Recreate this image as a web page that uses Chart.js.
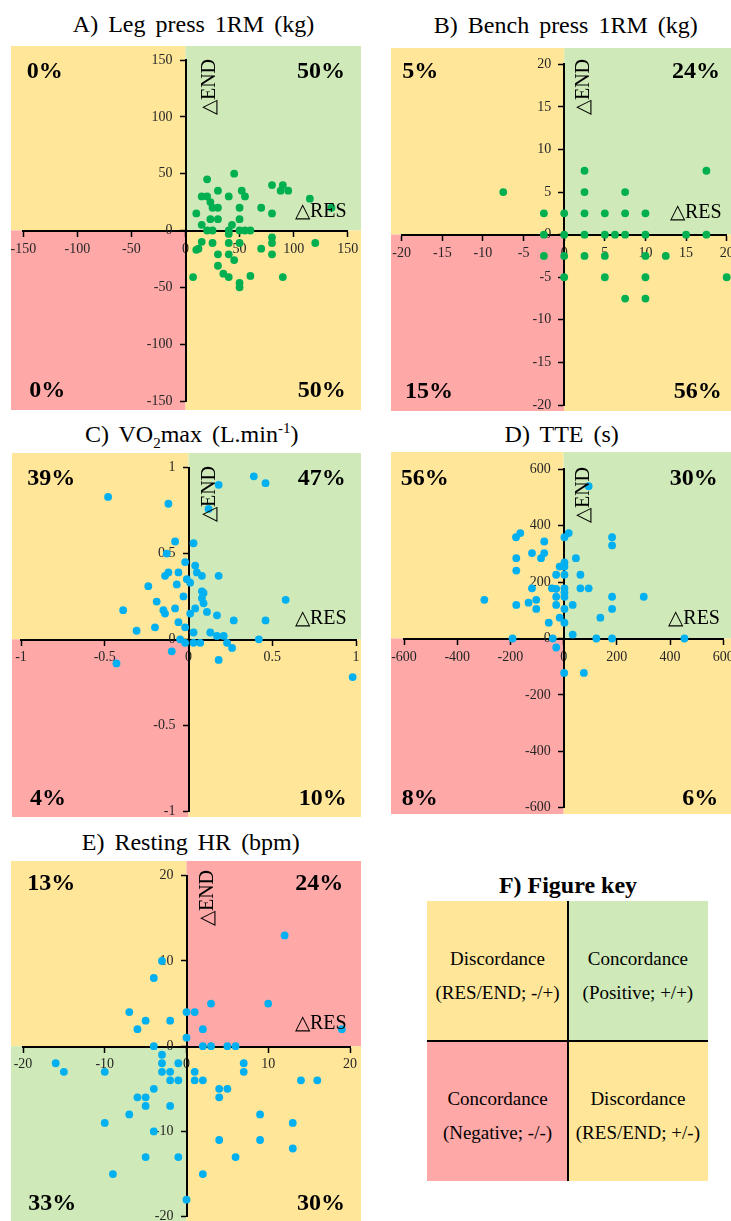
<!DOCTYPE html>
<html>
<head>
<meta charset="utf-8">
<script src="https://cdn.jsdelivr.net/npm/chart.js@4.4.1/dist/chart.umd.min.js"></script>
<style>
  html, body { margin: 0; padding: 0; background: #fff; overflow: hidden; }
  body { position: relative; width: 731px; height: 1221px; font-family: "Liberation Serif", "Times New Roman", serif; color: #000; }
  .panel { position: absolute; }
  .title { position: absolute; width: 320px; text-align: center; font-size: 24px; line-height: 24px; word-spacing: 4px; white-space: nowrap; }
  .pct { position: absolute; font-size: 24px; line-height: 24px; font-weight: bold; white-space: nowrap; }
  .vend { position: absolute; width: 60px; height: 20px; font-size: 20px; line-height: 20px; text-align: center; white-space: nowrap; transform: rotate(-90deg); }
  .dres { position: absolute; font-size: 20px; line-height: 20px; white-space: nowrap; }
  .cell { position: absolute; width: 140.4px; height: 139.9px; box-sizing: border-box; padding-top: 41px; text-align: center; font-size: 19px; line-height: 34px; white-space: nowrap; }
  .bar { position: absolute; background: #000; }
  sub, sup { font-size: 15px; line-height: 0; }
</style>
</head>
<body>

<div class="title" style="left:33.5px; top:11.6px;">A) Leg press 1RM (kg)</div>
<div class="title" style="left:405.8px; top:12.7px;">B) Bench press 1RM (kg)</div>
<div class="title" style="left:31.7px; top:421.6px;">C) VO<sub>2</sub>max (L.min<sup>-1</sup>)</div>
<div class="title" style="left:401.7px; top:422px;">D) TTE (s)</div>
<div class="title" style="left:30.8px; top:830px;">E) Resting HR (bpm)</div>
<div class="title" style="left:408px; top:873.2px; font-weight:bold; word-spacing:0;">F) Figure key</div>

<div class="panel" style="left:11px; top:46px;"><canvas id="chartA" width="350" height="364"></canvas></div>
<div class="panel" style="left:391px; top:48px;"><canvas id="chartB" width="350" height="363"></canvas></div>
<div class="panel" style="left:12px; top:453px;"><canvas id="chartC" width="349" height="364"></canvas></div>
<div class="panel" style="left:391px; top:452px;"><canvas id="chartD" width="350" height="362"></canvas></div>
<div class="panel" style="left:11px; top:861px;"><canvas id="chartE" width="350" height="370"></canvas></div>

<!-- quadrant percentages -->
<div class="pct" style="left:26.7px; top:58.2px;">0%</div>
<div class="pct" style="right:386px; top:58.2px;">50%</div>
<div class="pct" style="left:29.3px; top:376.9px;">0%</div>
<div class="pct" style="right:385.3px; top:376.9px;">50%</div>

<div class="pct" style="left:402.3px; top:57.9px;">5%</div>
<div class="pct" style="right:11px; top:57.9px;">24%</div>
<div class="pct" style="left:405px; top:377.9px;">15%</div>
<div class="pct" style="right:9.3px; top:377.9px;">56%</div>

<div class="pct" style="left:27.3px; top:464.9px;">39%</div>
<div class="pct" style="right:385.3px; top:464.9px;">47%</div>
<div class="pct" style="left:30px; top:784.9px;">4%</div>
<div class="pct" style="right:384.3px; top:784.9px;">10%</div>

<div class="pct" style="left:400.7px; top:464.9px;">56%</div>
<div class="pct" style="right:13.3px; top:464.9px;">30%</div>
<div class="pct" style="left:401.7px; top:784.9px;">8%</div>
<div class="pct" style="right:12.7px; top:784.9px;">6%</div>

<div class="pct" style="left:27.3px; top:869.9px;">13%</div>
<div class="pct" style="right:387.7px; top:869.9px;">24%</div>
<div class="pct" style="left:28.3px; top:1189.9px;">33%</div>
<div class="pct" style="right:386px; top:1189.9px;">30%</div>

<!-- axis names -->
<div class="vend" style="left:178px; top:77px;">△END</div>
<div class="vend" style="left:551.7px; top:77px;">△END</div>
<div class="vend" style="left:177.5px; top:484px;">△END</div>
<div class="vend" style="left:552px; top:484.5px;">△END</div>
<div class="vend" style="left:176px; top:888px;">△END</div>

<div class="dres" style="right:384.3px; top:199.9px;">△RES</div>
<div class="dres" style="right:9.3px; top:201.2px;">△RES</div>
<div class="dres" style="right:384.3px; top:607.2px;">△RES</div>
<div class="dres" style="right:11px; top:607.2px;">△RES</div>
<div class="dres" style="right:384.3px; top:1012.2px;">△RES</div>

<!-- figure key -->
<div class="cell" style="left:427.3px; top:901px; background:#FFE699;">Discordance<br>(RES/END; -/+)</div>
<div class="cell" style="left:567.7px; top:901px; background:#CFEAB8;">Concordance<br>(Positive; +/+)</div>
<div class="cell" style="left:427.3px; top:1040.9px; background:#FFA8A8;">Concordance<br>(Negative; -/-)</div>
<div class="cell" style="left:567.7px; top:1040.9px; background:#FFE699;">Discordance<br>(RES/END; +/-)</div>
<div class="bar" style="left:567px; top:901px; width:2px; height:280px;"></div>
<div class="bar" style="left:427.3px; top:1040px; width:281px; height:2px;"></div>

<script>
const YELLOW = '#FFE699', GREEN = '#CFEAB8', PINK = '#FFA8A8';
const dotGreen = '#00B050', dotBlue = '#00B0F0';

// A) Leg press 1RM (kg)
const legRes = [45,20,80,90,88,95,30,52,55,40,15,20,23,115,25,30,50,70,135,10,80,15,23,30,50,43,20,25,40,50,55,60,40,15,12,10,25,40,50,80,80,70,80,120,30,40,45,30,35,40,60,7,90,50,50];
const legEnd = [50,45,40,40,35,35,35,35,30,30,30,30,25,28,20,20,20,20,20,15,15,5,10,10,10,5,0,0,0,0,0,0,-3,-10,-16,-17,-11,-11,-11,-6,-11,-16,-21,-11,-21,-21,-26,-31,-38,-41,-40,-41,-41,-46,-50];
const legTicks = [-150,-100,-50,0,50,100,150];

// B) Bench press 1RM (kg)
const benchRes = [-7.5,2.5,17.5,2.5,7.5,-2.5,0,2.5,5,7.5,10,-2.5,0,2.5,5,6.25,7.5,10,15,17.5,-2.5,0,2.5,5,10,12.5,0,5,10,20,7.5,10];
const benchEnd = [5,7.5,7.5,5,5,2.5,2.5,2.5,2.5,2.5,2.5,0,0,0,0,0,0,0,0,0,-2.5,-2.5,-2.5,-2.5,-2.5,-2.5,-5,-5,-5,-5,-7.5,-7.5];
const benchTicks = [-20,-15,-10,-5,0,5,10,15,20];

// C) VO2max (L.min-1)
const vo2Res = [-0.48,-0.12,0.18,0.39,0.46,0.12,-0.08,0.03,-0.13,-0.02,0.04,-0.12,-0.14,-0.06,0.05,0.08,0.18,-0.01,0.01,-0.24,-0.07,0.08,0.09,0.08,-0.03,0.58,-0.19,0.09,0.04,-0.08,-0.39,-0.15,-0.14,0.11,0.01,0.17,0.27,0.46,-0.06,-0.20,-0.02,-0.31,0.03,0.13,0.17,0.21,0.42,-0.05,-0.02,0.03,0.07,0.23,0.26,-0.10,0.18,-0.43,0.98];
const vo2End = [0.83,0.79,0.90,0.95,0.91,0.76,0.57,0.56,0.50,0.45,0.43,0.39,0.37,0.39,0.39,0.37,0.37,0.35,0.33,0.31,0.32,0.28,0.27,0.24,0.25,0.23,0.22,0.21,0.18,0.18,0.17,0.17,0.15,0.16,0.15,0.14,0.11,0.11,0.10,0.07,0.07,0.05,0.04,0.04,0.02,0.02,0.00,0.00,-0.02,-0.02,-0.02,-0.02,-0.05,-0.07,-0.12,-0.14,-0.22];
const vo2Ticks = [-1,-0.5,0,0.5,1];

// D) TTE (s)
const tteRes = [94,-163,-179,19,3,182,182,-73,-178,-119,-73,-85,46,3,-15,3,-178,-28,3,63,-119,-44,-28,3,3,63,94,-28,3,182,301,-298,-103,-132,-178,-28,34,-103,3,182,138,-15,-56,3,34,-192,-41,123,182,454,-28,2,76];
const tteEnd = [540,374,359,374,359,359,330,344,285,303,303,285,285,270,255,255,241,226,226,226,178,178,176,178,163,178,178,148,148,148,148,137,137,127,119,119,119,105,105,105,74,74,56,56,14,0,0,0,0,0,-32,-122,-122];
const tteTicks = [-600,-400,-200,0,200,400,600];

// E) Resting HR (bpm)
const hrRes = [12,-3,-4,3,10,-7,0,1,-5,-2,-6,2,19,0,-4,2,3,5,6,-3,-16,-15,-10,-3,-1,7,7,-3,-2,1,-2,-1,1,2,14,16,-4,4,5,-6,-5,4,-5,-2,-7,9,-10,13,-4,4,9,13,-5,-1,6,-9,2,0];
const hrEnd = [13,10,8,5,5,4,4,4,3,3,2,2,2,1,0,0,0,0,0,-1,-2,-3,-3,-2,-2,-2,-3,-3,-3,-3,-4,-4,-4,-4,-4,-4,-5,-5,-5,-6,-6,-6,-7,-7,-8,-8,-9,-9,-10,-11,-11,-12,-13,-13,-13,-15,-15,-18];
const hrTicks = [-20,-10,0,10,20];

// paints the four quadrant backgrounds, split where the axes cross
const quadrantPlugin = {
  id: 'quadrants',
  beforeDraw(chart, args, opts) {
    const {ctx, width, height} = chart;
    const x0 = chart.scales.x.getPixelForValue(0);
    const y0 = chart.scales.y.getPixelForValue(0);
    const [tl, tr, bl, br] = opts.colours;
    ctx.save();
    ctx.fillStyle = tl; ctx.fillRect(0, 0, x0, y0);
    ctx.fillStyle = tr; ctx.fillRect(x0, 0, width - x0, y0);
    ctx.fillStyle = bl; ctx.fillRect(0, y0, x0, height - y0);
    ctx.fillStyle = br; ctx.fillRect(x0, y0, width - x0, height - y0);
    ctx.restore();
  }
};

// every range is symmetric, so the centre of the plot is the zero line
function axis(ticks, isX) {
  return {
    type: 'linear',
    position: 'center',
    min: ticks[0],
    max: ticks[ticks.length - 1],
    afterBuildTicks: s => { s.ticks = ticks.map(v => ({value: v})); },
    afterFit: s => { s.paddingLeft = 0; s.paddingRight = 0; s.paddingTop = 0; s.paddingBottom = 0; },
    grid: { drawOnChartArea: false, drawTicks: true, tickLength: 5, tickWidth: 1.5, tickColor: '#000' },
    border: { display: true, color: '#000', width: 2 },
    ticks: {
      color: '#262626',
      font: { family: 'Liberation Serif', size: 14 },
      padding: isX ? 5 : 8,
      autoSkip: false,
      maxRotation: 0,
      callback: v => String(v)
    }
  };
}

function makePanel(id, xs, ys, ticks, colour, quads, pad) {
  const points = xs.map((x, i) => ({x: x, y: ys[i]}));
  return new Chart(document.getElementById(id), {
    type: 'scatter',
    data: {
      datasets: [{
        data: points,
        backgroundColor: colour,
        borderWidth: 0,
        pointRadius: 3.9,
        pointHoverRadius: 3.9,
        clip: false
      }]
    },
    options: {
      responsive: false,
      animation: false,
      devicePixelRatio: 1,
      layout: { padding: pad },
      plugins: {
        legend: { display: false },
        tooltip: { enabled: false },
        quadrants: { colours: quads }
      },
      scales: {
        x: axis(ticks, true),
        y: axis(ticks, false)
      }
    },
    plugins: [quadrantPlugin]
  });
}

// quadrant order: top-left, top-right, bottom-left, bottom-right
makePanel('chartA', legRes, legEnd, legTicks, dotGreen, [YELLOW, GREEN, PINK, YELLOW], {left: 12.3, right: 13.3, top: 14, bottom: 9});
makePanel('chartB', benchRes, benchEnd, benchTicks, dotGreen, [YELLOW, GREEN, PINK, YELLOW], {left: 10.7, right: 14.3, top: 16.3, bottom: 6});
makePanel('chartC', vo2Res, vo2End, vo2Ticks, dotBlue, [YELLOW, GREEN, PINK, YELLOW], {left: 9, right: 5, top: 14.7, bottom: 6});
makePanel('chartD', tteRes, tteEnd, tteTicks, dotBlue, [YELLOW, GREEN, PINK, YELLOW], {left: 13, right: 17.7, top: 17.3, bottom: 6.3});
makePanel('chartE', hrRes, hrEnd, hrTicks, dotBlue, [YELLOW, PINK, GREEN, YELLOW], {left: 12, right: 11, top: 14.7, bottom: 14.3});
</script>
</body>
</html>
